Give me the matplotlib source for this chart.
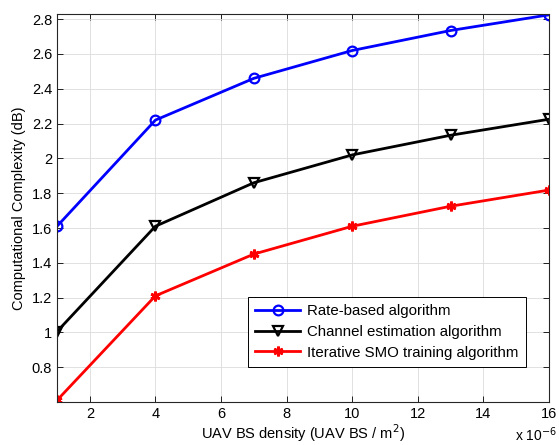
import matplotlib.pyplot as plt

plt.rcParams['font.family'] = ['Liberation Sans', 'DejaVu Sans']

# ============ Data ============
density = [1, 4, 7, 10, 13, 16]
rate_based = [1.61, 2.22, 2.46, 2.62, 2.735, 2.825]
channel_est = [1.005, 1.61, 1.86, 2.02, 2.133, 2.225]
smo_training = [0.61, 1.21, 1.45, 1.61, 1.725, 1.818]

labels = ["Rate-based algorithm", "Channel estimation algorithm",
          "Iterative SMO training algorithm"]
xticks = [2, 4, 6, 8, 10, 12, 14, 16]
yticks = [0.8, 1.0, 1.2, 1.4, 1.6, 1.8, 2.0, 2.2, 2.4, 2.6, 2.8]
ytick_labels = ["0.8", "1", "1.2", "1.4", "1.6", "1.8", "2", "2.2", "2.4", "2.6", "2.8"]

# ============ Plot ============
fig = plt.figure(figsize=(5.59, 4.45), dpi=100)
ax = fig.add_axes([0.102, 0.0966, 0.880, 0.872])

ax.plot(density, rate_based, color='blue', lw=2, marker='o', ms=7,
        mfc='none', mew=1.6, label=labels[0])
ax.plot(density, channel_est, color='black', lw=2, marker='v', ms=7,
        mfc='none', mew=1.6, label=labels[1])
ax.plot(density, smo_training, color='red', lw=2, marker=(6, 2, 0), ms=7,
        mew=2, label=labels[2])

ax.set_xlim(1, 16)
ax.set_ylim(0.6, 2.83)
ax.set_xticks(xticks)
ax.set_yticks(yticks)
ax.set_yticklabels(ytick_labels)
ax.tick_params(direction='in', top=True, right=True, labelsize=10.5,
               length=4, width=0.6)
for s in ax.spines.values():
    s.set_linewidth(0.8)
    s.set_color('#262626')
ax.grid(True, color='#dcdcdc', lw=0.6)
ax.set_axisbelow(True)

ax.set_xlabel("UAV BS density (UAV BS / m$^2$)", fontsize=10.5, labelpad=1)
ax.set_ylabel("Computational Complexity (dB)", fontsize=10.5, labelpad=4)
fig.text(0.922, 0.008, r"x 10$^{-6}$", fontsize=10)

leg = ax.legend(loc='lower right', bbox_to_anchor=(0.953, 0.090),
                fancybox=False, edgecolor='black', framealpha=1,
                fontsize=10.8, handlelength=3.0, borderpad=0.5,
                labelspacing=0.45, handletextpad=0.45, borderaxespad=0)
leg.get_frame().set_linewidth(0.7)

fig.savefig("out.png", dpi=100)
